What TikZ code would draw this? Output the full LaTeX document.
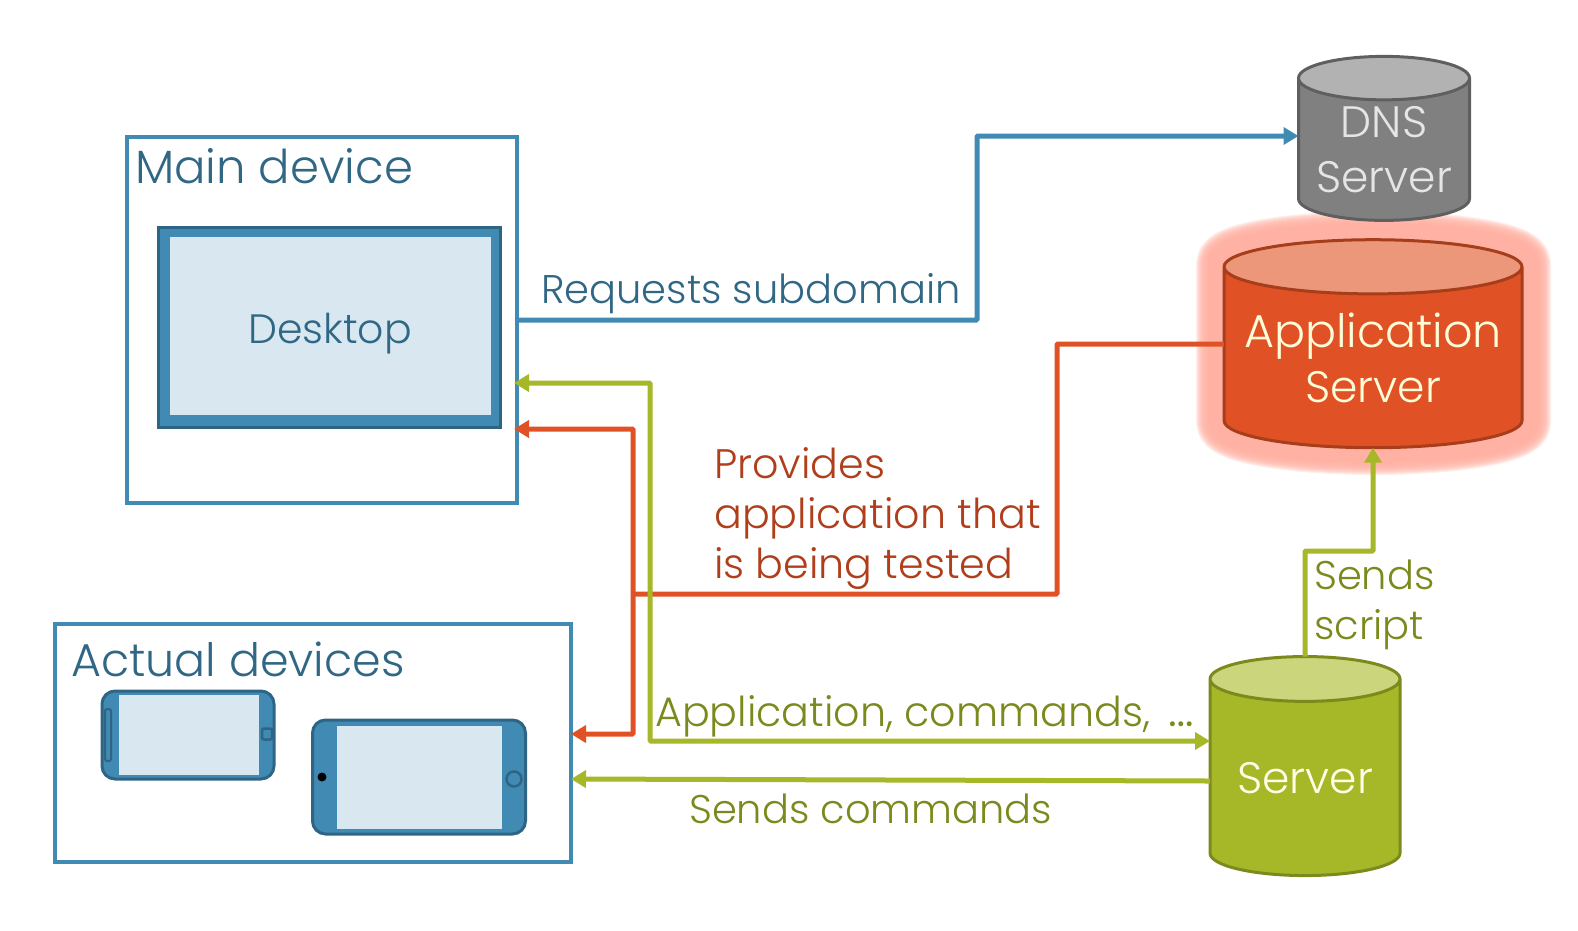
\documentclass[tikz,border=0pt]{standalone}
\usepackage{fontspec}
\setmainfont{Poppins}[UprightFont=* Light]
\usetikzlibrary{shapes.geometric,arrows.meta}
\definecolor{bluel}{HTML}{418AB3}
\definecolor{bluet}{HTML}{306785}
\definecolor{blued}{HTML}{2E6585}
\definecolor{bluef}{HTML}{D8E7F0}
\definecolor{redl}{HTML}{E05225}
\definecolor{redt}{HTML}{B03E1B}
\definecolor{redd}{HTML}{A63D1B}
\definecolor{redtop}{HTML}{EC967A}
\definecolor{redglow}{HTML}{FFAE9F}
\definecolor{greenl}{HTML}{A6B727}
\definecolor{greent}{HTML}{7C891D}
\definecolor{greentop}{HTML}{CAD57C}
\definecolor{grayl}{HTML}{808080}
\definecolor{grayd}{HTML}{5F5F5F}
\definecolor{graytop}{HTML}{B2B2B2}
\tikzset{
  cyl/.style={cylinder,shape border rotate=90,draw,line width=3pt,outer sep=0pt,inner sep=0pt,
    cylinder uses custom fill,align=center,font=\fontsize{44}{55}\selectfont},
  frame/.style={draw=bluel,line width=4.7pt,outer sep=0pt,inner sep=0pt},
  lbl/.style={anchor=west,inner sep=0pt,align=left,font=\fontsize{40}{50}\selectfont},
  lblb/.style={lbl,font=\fontsize{41.2}{50}\selectfont},
  phone/.style={draw=blued,fill=bluel,line width=3pt,rounded corners=13pt,outer sep=0pt,inner sep=0pt},
  screen/.style={fill=bluef,outer sep=0pt,inner sep=0pt},
  wire/.style={line width=5pt,rounded corners=1pt},
  tip/.tip={Triangle[length=15pt,width=17pt]}
}
\begin{document}
\begin{tikzpicture}[x=1pt,y=-1pt]
  \useasboundingbox (0,0) rectangle (1578,930);
  % glow
  \foreach \w in {54,52,...,30}
    \draw[redglow,line width=\w pt,opacity=.2,line join=round]
      (1223,264) arc[x radius=150.5,y radius=26,start angle=180,end angle=360]
      -- (1524,422) arc[x radius=150.5,y radius=26,start angle=0,end angle=180] -- cycle;
  % boxes
  \node[frame,minimum width=390,minimum height=366] (main) at (322,320) {};
  \node[frame,minimum width=516,minimum height=238] (actual) at (313,743) {};
  \node[anchor=west,text=bluet,inner sep=0pt,font=\fontsize{46.6}{50}\selectfont] (maintxt) at (135,166) {Main device};
  \node[anchor=west,text=bluet,inner sep=0pt,font=\fontsize{46}{50}\selectfont] (actualtxt) at (71,659) {Actual devices};
  \node[draw=blued,fill=bluel,line width=3pt,minimum width=342,minimum height=200,outer sep=0pt] (desk) at (329,327) {};
  \node[screen,minimum width=321,minimum height=178] (deskscr) at (330,326) {};
  \node[text=bluet,inner sep=0pt,font=\fontsize{41}{50}\selectfont] (desktxt) at (330,334) {Desktop};
  % phones
  \node[phone,minimum width=172,minimum height=88] (ph1) at (188,735) {};
  \node[screen,minimum width=140,minimum height=80] (ph1scr) at (189,735) {};
  \node[draw=blued,line width=2pt,rounded corners=2pt,minimum width=6,minimum height=52,inner sep=0pt] (ph1spk) at (108,735) {};
  \node[draw=blued,line width=2.5pt,rounded corners=2pt,minimum width=10,minimum height=11,inner sep=0pt] (ph1btn) at (267,734) {};
  \node[phone,minimum width=213,minimum height=114] (ph2) at (419,777) {};
  \node[screen,minimum width=165,minimum height=103] (ph2scr) at (419,777) {};
  \node[circle,fill=black,minimum size=9,inner sep=0pt] (ph2cam) at (322,777) {};
  \node[circle,draw=blued,line width=2.5pt,minimum size=15,inner sep=0pt] (ph2btn) at (514,779) {};
  % servers
  \node[cyl,draw=grayd,cylinder body fill=grayl,cylinder end fill=graytop,text=white!90!black,
    minimum width=171,minimum height=164,aspect=.32] (dns) at (1384,150) {DNS\\Server};
  \node[cyl,draw=redd,cylinder body fill=redl,cylinder end fill=redtop,text=yellow!15!white,
    minimum width=298,minimum height=208,aspect=.21] (app) at (1373,358) {{\fontsize{46}{55}\selectfont Application}\\Server};
  \node[cyl,draw=greent,cylinder body fill=greenl,cylinder end fill=greentop,text=yellow!10!white,
    minimum width=190,minimum height=219,aspect=.33] (srv) at (1305,778) {Server};
  % bends
  \coordinate (reqa) at (977,320);
  \coordinate (dnsin) at (1200,136);
  \coordinate (appin) at (1200,344);
  \coordinate (redb) at (1057,594);
  \coordinate (redc) at (633,594);
  \coordinate (redu) at (633,429);
  \coordinate (redd1) at (633,734);
  \coordinate (grnu) at (650,383);
  \coordinate (grnd) at (650,741);
  \coordinate (sndr) at (1202,781);
  \coordinate (sndl) at (571,779);
  \coordinate (scra) at (1305,551);
  \coordinate (scrb) at (1373,551);
  % connectors
  \draw[wire,bluel,-tip] (main.east |- reqa) -- (reqa) |- (dns.west |- dnsin);
  \draw[wire,redl] (app.west |- appin) -| (redb) -- (redc);
  \draw[wire,redl,tip-tip,shorten <=-3pt] (main.east |- redu) -- (redu) -- (redd1) -- (actual.east |- redd1);
  \draw[wire,greenl,tip-tip,shorten <=-3pt] (main.east |- grnu) -- (grnu) -- (grnd) -- (srv.west |- grnd);
  \draw[wire,greenl,-tip] (srv.west |- sndr) -- (actual.east |- sndl);
  \draw[wire,greenl,-tip] (srv.north) -- (scra) -- (scrb) -- (app.south);
  % labels
  \node[lbl,text=bluet] (reqtxt) at (541,294) {Requests subdomain};
  \node[lblb,text=redt] (apptxt) at (714,519) {Provides\\application that\\is being tested};
  \node[lblb,text=greent] (cmdtxt) at (655,716) {Application, commands, \kern7pt{\fontsize{48}{48}\selectfont …}};
  \node[lbl,text=greent] (sndtxt) at (689,809) {Sends commands};
  \node[lbl,text=greent] (scrtxt) at (1314,605) {Sends\\script};
\end{tikzpicture}
\end{document}
